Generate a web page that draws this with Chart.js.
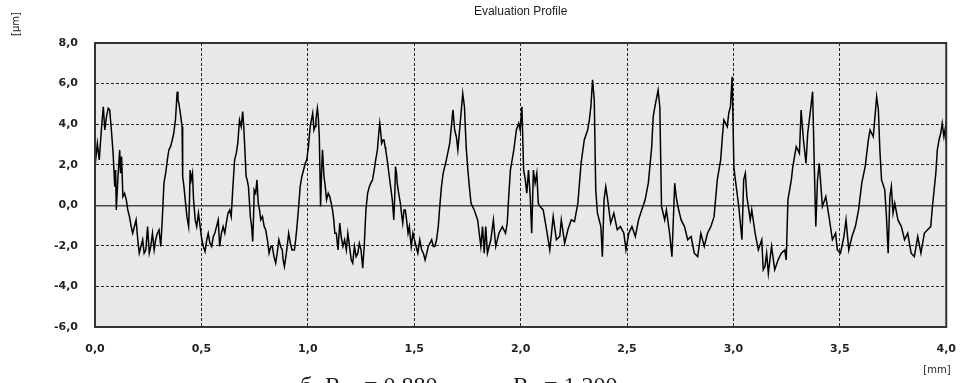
<!DOCTYPE html>
<html>
<head>
<meta charset="utf-8">
<script src="https://cdn.jsdelivr.net/npm/chart.js@4.4.0/dist/chart.umd.min.js"></script>
<style>
  html, body { margin: 0; padding: 0; background: #fff; }
  canvas { display: block; }
</style>
</head>
<body>
<canvas id="perfil" width="972" height="383"></canvas>
<script>
// trace positions along the evaluation length [mm]
const positionMm = [
  0.000, 0.011, 0.020, 0.031, 0.039, 0.046, 0.054, 0.062, 0.069, 0.077, 0.085, 0.093, 0.097, 0.100, 0.108, 0.116,
  0.120, 0.125, 0.131, 0.139, 0.147, 0.154, 0.162, 0.170, 0.177, 0.185, 0.193, 0.201, 0.208, 0.216, 0.224, 0.231,
  0.239, 0.247, 0.255, 0.262, 0.270, 0.278, 0.285, 0.293, 0.301, 0.309, 0.316, 0.324, 0.332, 0.340, 0.347, 0.355,
  0.363, 0.370, 0.378, 0.381, 0.386, 0.390, 0.394, 0.401, 0.409, 0.412, 0.418, 0.424, 0.432, 0.440, 0.444, 0.447,
  0.452, 0.458, 0.463, 0.471, 0.478, 0.486, 0.494, 0.502, 0.509, 0.517, 0.525, 0.532, 0.540, 0.548, 0.556, 0.563,
  0.571, 0.579, 0.586, 0.594, 0.602, 0.610, 0.617, 0.625, 0.633, 0.640, 0.648, 0.656, 0.664, 0.671, 0.679, 0.687,
  0.694, 0.699, 0.705, 0.710, 0.715, 0.721, 0.725, 0.730, 0.736, 0.741, 0.745, 0.748, 0.755, 0.761, 0.767, 0.773,
  0.779, 0.787, 0.795, 0.802, 0.810, 0.818, 0.826, 0.833, 0.841, 0.849, 0.856, 0.864, 0.872, 0.880, 0.884, 0.890,
  0.897, 0.903, 0.910, 0.918, 0.926, 0.937, 0.943, 0.949, 0.957, 0.964, 0.972, 0.980, 0.988, 0.995, 1.003, 1.011,
  1.017, 1.023, 1.029, 1.034, 1.038, 1.045, 1.049, 1.054, 1.060, 1.065, 1.069, 1.076, 1.082, 1.088, 1.096, 1.103,
  1.110, 1.116, 1.122, 1.127, 1.134, 1.142, 1.150, 1.157, 1.165, 1.173, 1.181, 1.188, 1.196, 1.204, 1.211, 1.219,
  1.227, 1.235, 1.242, 1.250, 1.258, 1.265, 1.273, 1.281, 1.289, 1.296, 1.304, 1.312, 1.319, 1.327, 1.332, 1.338,
  1.343, 1.347, 1.353, 1.358, 1.363, 1.366, 1.373, 1.381, 1.389, 1.397, 1.404, 1.409, 1.412, 1.417, 1.420, 1.427,
  1.435, 1.440, 1.446, 1.452, 1.458, 1.464, 1.471, 1.477, 1.486, 1.494, 1.501, 1.509, 1.517, 1.526, 1.535, 1.543,
  1.551, 1.559, 1.566, 1.574, 1.582, 1.590, 1.597, 1.605, 1.613, 1.620, 1.628, 1.636, 1.651, 1.667, 1.682, 1.690,
  1.698, 1.705, 1.716, 1.728, 1.736, 1.744, 1.752, 1.759, 1.767, 1.782, 1.798, 1.813, 1.821, 1.829, 1.836, 1.844,
  1.860, 1.872, 1.883, 1.898, 1.914, 1.929, 1.937, 1.944, 1.952, 1.968, 1.980, 1.991, 1.998, 2.006, 2.014, 2.022,
  2.029, 2.037, 2.045, 2.052, 2.060, 2.068, 2.076, 2.083, 2.091, 2.106, 2.122, 2.137, 2.153, 2.168, 2.184, 2.191,
  2.207, 2.222, 2.238, 2.253, 2.269, 2.284, 2.299, 2.315, 2.323, 2.330, 2.338, 2.346, 2.353, 2.361, 2.377, 2.384,
  2.392, 2.400, 2.407, 2.423, 2.438, 2.454, 2.469, 2.485, 2.495, 2.508, 2.523, 2.539, 2.554, 2.569, 2.585, 2.600,
  2.616, 2.623, 2.631, 2.646, 2.654, 2.662, 2.677, 2.685, 2.700, 2.711, 2.724, 2.731, 2.739, 2.754, 2.770, 2.785,
  2.801, 2.816, 2.832, 2.847, 2.863, 2.878, 2.894, 2.909, 2.924, 2.940, 2.948, 2.955, 2.971, 2.978, 2.986, 2.994,
  3.002, 3.009, 3.025, 3.040, 3.048, 3.056, 3.063, 3.079, 3.086, 3.102, 3.117, 3.133, 3.140, 3.148, 3.156, 3.164,
  3.179, 3.194, 3.210, 3.225, 3.241, 3.248, 3.256, 3.272, 3.279, 3.295, 3.310, 3.318, 3.329, 3.341, 3.349, 3.364,
  3.372, 3.380, 3.387, 3.395, 3.403, 3.410, 3.418, 3.434, 3.449, 3.465, 3.480, 3.488, 3.503, 3.519, 3.529, 3.542,
  3.557, 3.573, 3.588, 3.603, 3.619, 3.634, 3.642, 3.657, 3.665, 3.673, 3.681, 3.688, 3.696, 3.711, 3.719, 3.727,
  3.735, 3.742, 3.750, 3.758, 3.773, 3.789, 3.804, 3.819, 3.835, 3.850, 3.866, 3.881, 3.897, 3.912, 3.927, 3.935,
  3.951, 3.958, 3.966, 3.974, 3.981, 3.989, 3.997, 4.000
];

// profile height at each position [um]
const heightUm = [
  1.91, 3.06, 2.24, 3.88, 4.86, 3.71, 4.37, 4.78, 4.70, 3.71, 2.57, 0.92, 1.74, -0.23, 1.42, 2.73,
  1.58, 2.40, 0.43, 0.59, 0.27, -0.23, -0.56, -1.05, -1.38, -1.05, -0.72, -1.70, -2.36, -2.03, -1.70, -2.36,
  -2.20, -1.05, -2.36, -2.03, -1.38, -2.20, -1.70, -1.38, -1.21, -2.03, -0.72, 1.09, 1.58, 2.24, 2.73, 2.89,
  3.22, 3.55, 4.21, 4.70, 5.60, 5.19, 5.03, 4.54, 3.88, 1.42, 0.92, 0.27, -0.56, -1.05, 0.27, 1.74,
  1.25, 1.58, 0.27, -0.72, -1.05, -0.39, -1.05, -1.70, -2.03, -2.28, -1.70, -1.38, -1.87, -2.03, -1.54, -1.38,
  -1.05, -0.72, -2.03, -1.38, -1.05, -1.38, -0.88, -0.39, -0.23, -0.56, 0.92, 2.24, 2.57, 3.06, 4.21, 3.88,
  4.62, 3.88, 2.57, 1.42, 1.25, 0.92, 0.27, -0.56, -1.05, -1.79, -0.56, 0.76, 0.59, 1.25, 0.10, -0.23,
  -0.72, -0.56, -1.05, -1.21, -1.70, -2.36, -2.03, -2.03, -2.53, -2.85, -2.36, -1.70, -2.03, -2.20, -2.69, -3.02,
  -2.53, -2.03, -1.38, -1.87, -2.20, -2.20, -1.70, -1.05, -0.06, 0.92, 1.42, 1.74, 2.07, 2.24, 2.89, 3.88,
  4.21, 4.54, 3.71, 3.88, 4.21, 4.78, 4.37, 3.39, -0.06, 1.74, 2.73, 1.42, 0.92, 0.27, 0.59, 0.43,
  0.10, -0.23, -0.72, -1.38, -1.38, -2.20, -0.88, -1.54, -2.03, -1.70, -2.20, -1.38, -2.03, -2.69, -2.85, -2.03,
  -2.53, -2.36, -1.87, -2.20, -3.10, -2.03, -0.23, 0.59, 0.92, 1.09, 1.25, 1.74, 2.24, 2.73, 3.39, 4.04,
  3.55, 3.06, 3.22, 3.22, 2.89, 2.73, 2.24, 1.58, 0.92, 0.27, -0.72, 0.59, 1.91, 1.58, 1.09, 0.59,
  0.10, -0.39, -0.88, -0.23, -0.23, -0.72, -1.38, -1.05, -2.03, -1.38, -1.70, -2.03, -2.36, -1.70, -2.20, -2.36,
  -2.69, -2.36, -2.03, -1.87, -1.70, -2.03, -2.03, -1.70, -1.05, -0.06, 0.92, 1.58, 2.24, 3.06, 4.70, 3.71,
  3.38, 2.73, 4.04, 5.52, 4.86, 2.89, 1.74, 0.92, 0.10, -0.23, -0.72, -2.03, -1.05, -2.36, -1.05, -2.36,
  -1.70, -0.72, -2.03, -1.38, -1.05, -1.38, -0.88, 0.43, 1.74, 2.73, 3.71, 4.04, 3.71, 4.86, 1.74, 1.25,
  0.60, 1.74, 0.43, -1.38, 1.74, 1.09, 1.58, 0.10, -0.06, -0.23, -1.21, -2.20, -0.56, -1.70, -1.54, -0.72,
  -1.87, -1.21, -0.72, -0.80, 0.10, 2.07, 3.22, 3.71, 4.21, 4.86, 6.18, 5.19, 0.76, -0.39, -1.05, -2.53,
  0.27, 0.92, 0.43, -0.88, -0.39, -1.21, -1.05, -1.38, -2.20, -1.38, -1.05, -1.54, -0.72, -0.23, 0.27, 1.09,
  2.89, 4.37, 4.86, 5.68, 4.86, -0.06, -0.72, -0.23, -1.38, -2.53, 1.09, 0.43, -0.06, -0.72, -1.05, -1.70,
  -1.54, -2.36, -2.53, -1.38, -2.03, -1.38, -1.05, -0.56, 1.25, 2.24, 3.38, 4.21, 3.88, 4.54, 4.86, 6.34,
  1.91, 1.25, -0.06, -1.70, 1.25, 1.58, 0.43, -0.72, -0.23, -1.38, -2.20, -1.70, -3.18, -3.02, -2.36, -3.35,
  -2.03, -3.18, -2.69, -2.36, -2.20, -2.69, 0.27, 1.25, 1.91, 2.89, 2.56, 4.70, 3.22, 2.07, 3.55, 4.86,
  5.60, 1.91, -1.05, 1.25, 2.07, 1.09, -0.06, 0.43, -0.56, -1.70, -1.38, -2.20, -2.36, -1.54, -0.72, -2.20,
  -1.54, -1.05, -0.23, 1.09, 1.91, 3.22, 3.71, 3.38, 4.37, 5.35, 4.70, 2.73, 1.25, 0.76, -0.56, -2.36,
  0.43, 0.92, -0.39, 0.10, -0.72, -1.05, -1.70, -1.38, -2.36, -2.53, -1.54, -2.36, -1.38, -1.21, -1.05, -0.06,
  1.58, 2.73, 3.22, 3.55, 4.04, 3.38, 3.88, 3.06
];

const xTicks = [0, 0.5, 1.0, 1.5, 2.0, 2.5, 3.0, 3.5, 4.0];
const yTicks = [-6, -4, -2, 0, 2, 4, 6, 8];

const lineas = '#222';
const fuenteEje = { family: '"DejaVu Sans", sans-serif', size: 11, weight: 'bold' };

function conComa(v) {
  return Number(v).toFixed(1).replace('.', ',');
}

// grey plot area behind the trace
const fondoGris = {
  id: 'fondoGris',
  beforeDraw(chart) {
    const { ctx, chartArea: a } = chart;
    ctx.save();
    ctx.fillStyle = '#e8e8e8';
    ctx.fillRect(a.left, a.top, a.right - a.left, a.bottom - a.top);
    ctx.restore();
  }
};

// frame, title, unit labels and the caption under the chart
const textos = {
  id: 'textos',
  afterDraw(chart) {
    const { ctx, chartArea: a } = chart;
    ctx.save();
    ctx.strokeStyle = '#333';
    ctx.lineWidth = 2;
    ctx.strokeRect(a.left, a.top, a.right - a.left, a.bottom - a.top);

    ctx.fillStyle = '#222';
    ctx.textAlign = 'center';
    ctx.textBaseline = 'middle';
    ctx.font = '12px "Liberation Sans", Arial, sans-serif';
    ctx.fillText('Evaluation Profile', (a.left + a.right) / 2, 12);

    ctx.font = '10px "DejaVu Sans", sans-serif';
    ctx.fillText('[mm]', 937, 370);
    ctx.save();
    ctx.translate(16, 24);
    ctx.rotate(-Math.PI / 2);
    ctx.fillText('[\u00b5m]', 0, 0);
    ctx.restore();

    // caption sits partly below the bottom edge of the canvas
    ctx.fillStyle = '#222';
    ctx.textAlign = 'left';
    ctx.textBaseline = 'alphabetic';
    ctx.font = '24px "Liberation Serif", serif';
    ctx.fillText('б', 300, 393);
    ctx.fillText('R', 325, 393);
    ctx.fillText('= 0.880', 364, 393);
    ctx.fillText('R', 513, 393);
    ctx.fillText('= 1.200', 544, 393);
    ctx.font = '15px "Liberation Serif", serif';
    ctx.fillText('a', 341, 398);
    ctx.fillText('z', 529, 398);
    ctx.restore();
  }
};

const puntos = positionMm.map((x, i) => ({ x: x, y: heightUm[i] }));

new Chart(document.getElementById('perfil'), {
  type: 'line',
  data: {
    datasets: [{
      data: puntos,
      borderColor: '#000',
      borderWidth: 1.5,
      pointRadius: 0,
      tension: 0,
      fill: false
    }]
  },
  options: {
    responsive: false,
    animation: false,
    devicePixelRatio: 1,
    layout: { padding: { top: 43, right: 13, left: 0, bottom: 0 } },
    plugins: {
      legend: { display: false },
      tooltip: { enabled: false },
      title: { display: false }
    },
    scales: {
      x: {
        type: 'linear',
        min: 0,
        max: 4,
        afterBuildTicks: (s) => { s.ticks = xTicks.map(v => ({ value: v })); },
        afterFit: (s) => { s.height = 56; },
        grid: { color: lineas, lineWidth: 1, drawTicks: false },
        border: { display: true, color: '#333', width: 2, dash: [3, 2] },
        ticks: {
          padding: 16,
          color: '#222',
          font: fuenteEje,
          maxRotation: 0,
          callback: (v) => conComa(v)
        }
      },
      y: {
        type: 'linear',
        min: -6,
        max: 8,
        afterBuildTicks: (s) => { s.ticks = yTicks.map(v => ({ value: v })); },
        afterFit: (s) => { s.width = 95; },
        grid: {
          drawTicks: false,
          color: (c) => (c.tick && c.tick.value === 0 ? '#4a4a4a' : lineas),
          lineWidth: (c) => (c.tick && c.tick.value === 0 ? 1.5 : 1)
        },
        border: {
          display: true,
          color: '#333',
          width: 2,
          dash: (c) => (c.tick && c.tick.value === 0 ? [] : [3, 2])
        },
        ticks: {
          padding: 17,
          color: '#222',
          font: fuenteEje,
          callback: (v) => conComa(v)
        }
      }
    }
  },
  plugins: [fondoGris, textos]
});
</script>
</body>
</html>
